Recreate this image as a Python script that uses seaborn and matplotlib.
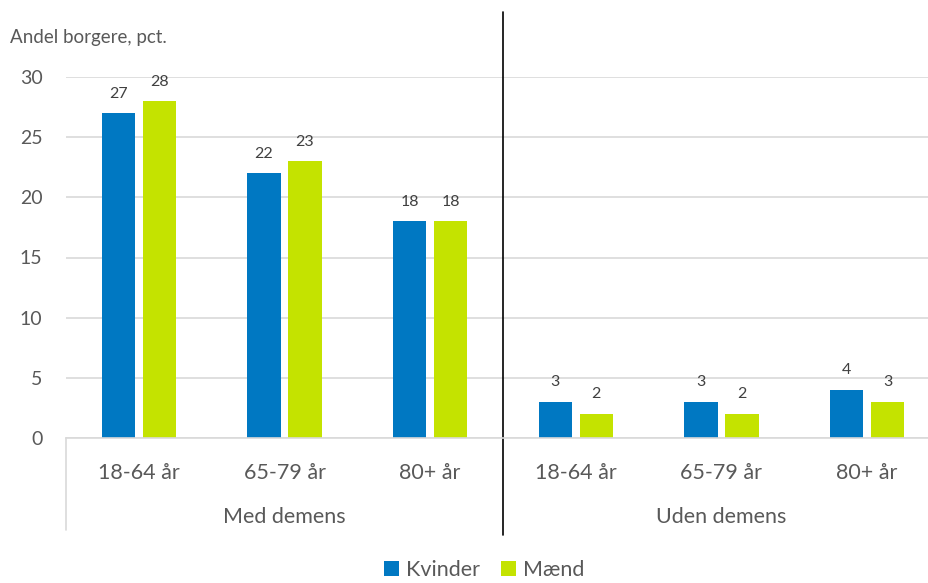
import matplotlib
matplotlib.use("Agg")
import matplotlib.pyplot as plt
import matplotlib.transforms as mtransforms
from matplotlib.patches import Patch
import seaborn as sns
import pandas as pd

groups = ["Med demens", "Uden demens"]
ages = ["18-64 år", "65-79 år", "80+ år"]
series = ["Kvinder", "Mænd"]
kvinder = [27, 22, 18, 3, 3, 4]
maend = [28, 23, 18, 2, 2, 3]
colors = ["#0078C2", "#C4E300"]

sns.set_theme(style="white")
plt.rcParams["font.family"] = ["Lato", "DejaVu Sans"]
txt = "#595959"

keys = [f"{g}|{a}" for g in groups for a in ages]
rows = []
for k, v in zip(keys, kvinder):
    rows.append({"cat": k, "serie": "Kvinder", "val": v})
for k, v in zip(keys, maend):
    rows.append({"cat": k, "serie": "Mænd", "val": v})
df = pd.DataFrame(rows)

W, H = 929, 583
fig = plt.figure(figsize=(W / 100, H / 100), dpi=100)
left, right, top, bottom = 66, 940, 77, 438
ax = fig.add_axes([left / W, 1 - bottom / H, (right - left) / W, (bottom - top) / H])

sns.barplot(data=df, x="cat", y="val", hue="serie", order=keys, hue_order=series,
            palette=colors, width=0.563, gap=0.195, ax=ax, legend=False,
            saturation=1, edgecolor="none")

ax.set_ylim(0, 30)
ax.set_xlim(-0.5, 5.5)
ax.set_yticks(range(0, 31, 5))
ax.yaxis.grid(True, color="#D9D9D9", linewidth=1.2)
ax.set_axisbelow(True)
for s in ["top", "right", "left"]:
    ax.spines[s].set_visible(False)
ax.spines["bottom"].set_color("#D9D9D9")
ax.spines["bottom"].set_linewidth(1.2)
ax.set_xlabel("")
ax.set_ylabel("")
ax.tick_params(axis="y", length=0, pad=17, labelsize=14, labelcolor=txt)
ax.tick_params(axis="x", length=0, pad=18, labelsize=15.5, labelcolor=txt)
ax.set_xticks(range(6))
ax.set_xticklabels([a for g in groups for a in ages])

for c in ax.containers:
    ax.bar_label(c, padding=9, fontsize=11.5, color="#404040")

trans = mtransforms.blended_transform_factory(ax.transData, fig.transFigure)
# separator
ax.plot([2.5, 2.5], [1 - 12 / H, 1 - 535 / H], transform=trans, color="black",
        linewidth=1.2, clip_on=False)
ax.plot([-0.5, -0.5], [1 - 438 / H, 1 - 530 / H], transform=trans, color="#D9D9D9",
        linewidth=1.2, clip_on=False)
for i, g in enumerate(groups):
    ax.text(1 + 3 * i, 1 - 517 / H, g, transform=trans, ha="center", va="center",
            fontsize=15.5, color=txt)

fig.text(10 / W, 1 - 38 / H, "Andel borgere, pct.", ha="left", va="center",
         fontsize=13.5, color=txt)

handles = [Patch(facecolor=c, edgecolor="none") for c in colors]
fig.legend(handles, series, loc="center", bbox_to_anchor=(484 / W, 1 - 570 / H),
           ncol=2, frameon=False, fontsize=15.5, labelcolor=txt,
           handlelength=0.7, handleheight=0.7, handletextpad=0.3, columnspacing=1.0,
           borderpad=0.1)

fig.savefig("out.png", dpi=100)
